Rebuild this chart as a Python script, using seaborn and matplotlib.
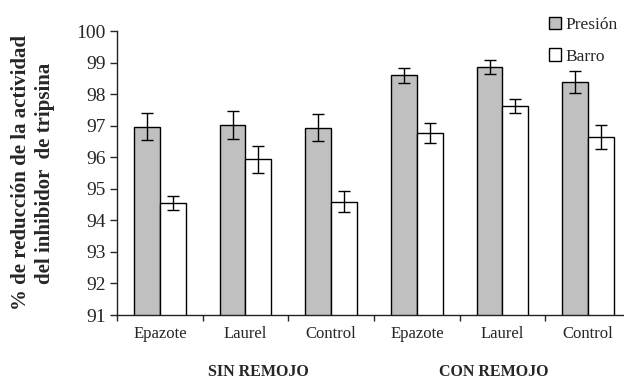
import numpy as np
import pandas as pd
import matplotlib
matplotlib.use('Agg')
import matplotlib.pyplot as plt
import seaborn as sns

# data
tratamientos = ['Epazote', 'Laurel', 'Control', 'Epazote', 'Laurel', 'Control']
presion = [96.97, 97.03, 96.94, 98.59, 98.86, 98.38]
presion_err = [0.44, 0.44, 0.44, 0.23, 0.22, 0.36]
barro = [94.55, 95.93, 94.59, 96.77, 97.61, 96.64]
barro_err = [0.22, 0.42, 0.33, 0.31, 0.22, 0.38]
grupos = ['SIN REMOJO', 'CON REMOJO']

sns.set_style('ticks')
plt.rcParams['font.family'] = ['Liberation Serif', 'DejaVu Serif']

ids = [str(i) for i in range(len(tratamientos))]
df = pd.DataFrame({
    'id': ids * 2,
    'valor': presion + barro,
    'serie': ['Presión'] * len(ids) + ['Barro'] * len(ids),
})

fig = plt.figure(figsize=(6.24, 3.82), dpi=100)
ax = fig.add_axes([117 / 624, 1 - 315 / 382, (631 - 117) / 624, (315 - 31) / 382])

sns.barplot(data=df, x='id', y='valor', hue='serie', order=ids,
            hue_order=['Presión', 'Barro'], palette=['#c0c0c0', 'white'],
            edgecolor='black', linewidth=1.0, width=0.6, errorbar=None, ax=ax)

# error bars at the bar centres
x = np.arange(len(ids))
ax.errorbar(x - 0.15, presion, yerr=presion_err, fmt='none', ecolor='black',
            elinewidth=1.0, capsize=4, capthick=1.0)
ax.errorbar(x + 0.15, barro, yerr=barro_err, fmt='none', ecolor='black',
            elinewidth=1.0, capsize=4, capthick=1.0)

ax.set_ylim(91, 100)
ax.set_xlim(-0.5, len(ids) - 0.5)
ax.set_yticks(range(91, 101))
ax.tick_params(axis='y', labelsize=14, length=5, width=1, direction='out', pad=3)
ax.set_xticks(x)
ax.set_xticklabels(tratamientos)
ax.set_xticks(np.arange(-0.5, len(ids), 1), minor=True)
ax.tick_params(axis='x', which='major', length=0, labelsize=12, pad=8)
ax.tick_params(axis='x', which='minor', length=4, width=1, direction='out')
ax.set_xlabel('')
ax.set_ylabel('')
for s in ['top', 'right']:
    ax.spines[s].set_visible(False)
for s in ['left', 'bottom']:
    ax.spines[s].set_linewidth(1.0)
    ax.spines[s].set_color('#222222')

fig.text(33 / 624, 1 - 173 / 382,
         '% de reducción de la actividad\ndel inhibidor  de tripsina',
         rotation=90, ha='center', va='center', multialignment='center',
         fontsize=15, fontweight='bold', linespacing=1.25)

fig.text(258 / 624, 1 - 372 / 382, grupos[0], ha='center', va='center',
         fontsize=11.5, fontweight='bold')
fig.text(494 / 624, 1 - 372 / 382, grupos[1], ha='center', va='center',
         fontsize=11.5, fontweight='bold')

handles, labels = ax.get_legend_handles_labels()
ax.legend(handles, labels, loc='upper left', bbox_to_anchor=(540 / 624, 1 - 8 / 382),
          bbox_transform=fig.transFigure, frameon=False, fontsize=12.5,
          handlelength=0.7, handleheight=0.7, handletextpad=0.25, labelspacing=0.9,
          borderpad=0)

fig.savefig('out.png', dpi=100)
